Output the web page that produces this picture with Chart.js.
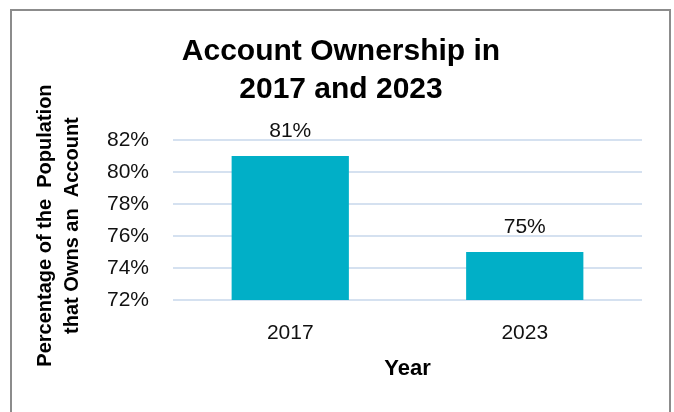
<!DOCTYPE html>
<html>
<head>
<meta charset="utf-8">
<script src="https://cdn.jsdelivr.net/npm/chart.js@4/dist/chart.umd.min.js"></script>
<style>
  body { margin: 0; background: #fff; overflow: hidden; }
  #wrap { position: relative; width: 674px; height: 412px; }
  #frame {
    position: absolute; left: 10px; top: 9px; width: 657px; height: 420px;
    border: 2px solid #8c8c8c; pointer-events: none;
  }
</style>
</head>
<body>
<div id="wrap">
  <canvas id="chart" width="674" height="412"></canvas>
  <div id="frame"></div>
</div>
<script>
var years = ["2017", "2023"];
var ownership = [81, 75];
var yTicks = [72, 74, 76, 78, 80, 82];

var barColor = '#01AFC7';
var gridColor = '#D5E1F0';
var textFont = "'Liberation Sans', Arial, sans-serif";

// value labels above each bar
var valueLabels = {
    id: 'valueLabels',
    afterDatasetsDraw: function (chart) {
        var ctx = chart.ctx;
        var meta = chart.getDatasetMeta(0);
        ctx.save();
        ctx.font = '21px ' + textFont;
        ctx.fillStyle = '#111';
        ctx.textAlign = 'center';
        ctx.textBaseline = 'middle';
        meta.data.forEach(function (bar, i) {
            ctx.fillText(ownership[i] + '%', bar.x, bar.y - 25);
        });
        ctx.restore();
    }
};

var ctx = document.getElementById('chart');
var chart = new Chart(ctx, {
    type: 'bar',
    data: {
        labels: years,
        datasets: [{
            data: ownership,
            backgroundColor: barColor,
            borderWidth: 0,
            barPercentage: 0.5,
            categoryPercentage: 1
        }]
    },
    options: {
        responsive: false,
        animation: false,
        layout: { padding: { left: 8, right: 0, top: 0, bottom: 0 } },
        plugins: {
            legend: { display: false },
            tooltip: { enabled: false },
            title: {
                display: true,
                text: ['Account Ownership in', '2017 and 2023'],
                color: '#000',
                font: { family: textFont, size: 30, weight: 'bold', lineHeight: 38 / 30 },
                padding: { top: 33, bottom: 31 }
            }
        },
        scales: {
            x: {
                grid: { display: false, drawTicks: false },
                border: { display: false },
                ticks: { color: '#111', font: { family: textFont, size: 21 }, padding: 21 },
                title: {
                    display: true,
                    text: 'Year',
                    color: '#000',
                    font: { family: textFont, size: 22, weight: 'bold' },
                    padding: { bottom: 30 }
                },
                afterFit: function (scale) { scale.height = 112; }
            },
            y: {
                min: 72,
                max: 82,
                afterBuildTicks: function (scale) {
                    scale.ticks = yTicks.map(function (v) { return { value: v }; });
                },
                grid: { color: gridColor, lineWidth: 2, drawTicks: false },
                border: { display: false },
                ticks: {
                    color: '#111',
                    font: { family: textFont, size: 21 },
                    padding: 24,
                    callback: function (v) { return v + '%'; }
                },
                title: {
                    display: true,
                    // trailing spaces nudge the rotated lines a little lower
                    text: ['Percentage of the  Population  ', 'that Owns an  Account  '],
                    color: '#000',
                    font: { family: textFont, size: 20, weight: 'bold', lineHeight: 27 / 20 },
                    padding: { top: 24 }
                },
                afterFit: function (scale) { scale.width = 165; }
            },
            // empty right-hand margin axis
            yRight: {
                position: 'right',
                display: true,
                grid: { display: false, drawTicks: false },
                border: { display: false },
                ticks: { display: false },
                afterFit: function (scale) { scale.width = 32; }
            }
        }
    },
    plugins: [valueLabels]
});
</script>
</body>
</html>
